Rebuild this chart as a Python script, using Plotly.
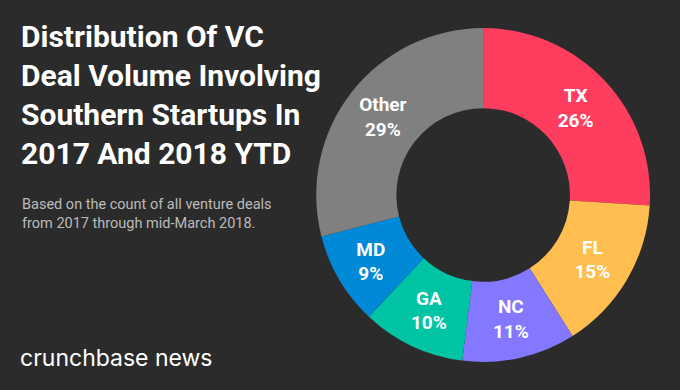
import plotly.graph_objects as go

labels = ["TX", "FL", "NC", "GA", "MD", "Other"]
values = [26, 15, 11, 10, 9, 29]
colors = ["#FF3D5E", "#FFBE4F", "#8378FF", "#00C4A4", "#0089D6", "#808080"]

title_lines = ["Distribution Of VC", "Deal Volume Involving", "Southern Startups In", "2017 And 2018 YTD"]
subtitle_lines = ["Based on the count of all venture deals", "from 2017 through mid-March 2018."]
brand = "crunchbase news"

bg = "#2B2B2B"

fig = go.Figure(go.Pie(
    labels=labels,
    values=values,
    marker=dict(colors=colors, line=dict(width=0)),
    hole=0.52,
    sort=False,
    direction="clockwise",
    rotation=0,
    texttemplate="<b>%{label}</b><br><b>%{value}%</b>",
    textposition="inside",
    insidetextorientation="horizontal",
    textfont=dict(family="Roboto", size=19, color="white"),
    domain=dict(x=[0.465, 0.956], y=[0.072, 0.928]),
    showlegend=False,
    hoverinfo="skip",
))

fig.add_annotation(
    x=19, y=390 - 17, xref="x", yref="y",
    text="<br>".join(f"<b>{t}</b>" for t in title_lines),
    showarrow=False, xanchor="left", yanchor="top", align="left",
    font=dict(family="Roboto", size=30, color="white"),
)
fig.add_annotation(
    x=20, y=390 - 194, xref="x", yref="y",
    text="<br>".join(subtitle_lines),
    showarrow=False, xanchor="left", yanchor="top", align="left",
    font=dict(family="Roboto", size=14.5, color="#BBBBBB"),
)
fig.add_annotation(
    x=18, y=390 - 358, xref="x", yref="y",
    text=brand,
    showarrow=False, xanchor="left", yanchor="middle", align="left",
    font=dict(family="Inter", size=23, color="white"),
)

fig.update_layout(
    width=680, height=390,
    margin=dict(l=0, r=0, t=0, b=0),
    paper_bgcolor=bg, plot_bgcolor=bg,
    uniformtext=dict(minsize=19, mode="show"),
    xaxis=dict(range=[0, 680], visible=False, fixedrange=True, domain=[0, 1]),
    yaxis=dict(range=[0, 390], visible=False, fixedrange=True, domain=[0, 1]),
)

fig.write_html("out.html", config={"displayModeBar": False},
               post_script="document.body.style.margin='0';document.body.style.background='#2B2B2B';")
